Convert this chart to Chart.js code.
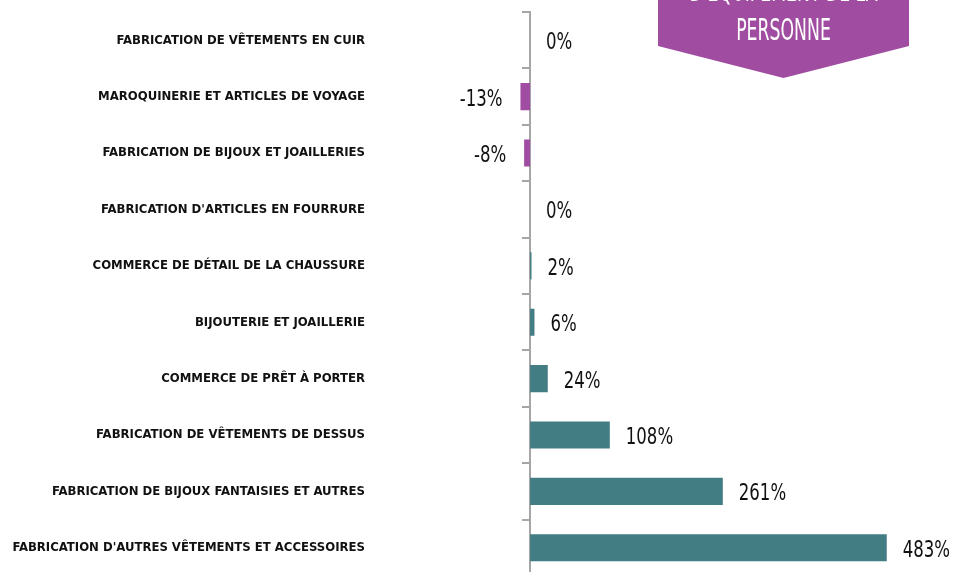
<!DOCTYPE html>
<html>
<head>
<meta charset="utf-8">
<script src="https://cdn.jsdelivr.net/npm/chart.js@4.4.1/dist/chart.umd.min.js"></script>
<style>
  html, body { margin: 0; padding: 0; background: #ffffff; overflow: hidden; }
  #wrap { width: 964px; height: 576px; position: relative; }
</style>
</head>
<body>
<div id="wrap"><canvas id="chart" width="964" height="576"></canvas></div>
<script>
// Sectors of the personal-equipment trade
const categories = [
  "FABRICATION DE VÊTEMENTS EN CUIR",
  "MAROQUINERIE ET ARTICLES DE VOYAGE",
  "FABRICATION DE BIJOUX ET JOAILLERIES",
  "FABRICATION D'ARTICLES EN FOURRURE",
  "COMMERCE DE DÉTAIL DE LA CHAUSSURE",
  "BIJOUTERIE ET JOAILLERIE",
  "COMMERCE DE PRÊT À PORTER",
  "FABRICATION DE VÊTEMENTS DE DESSUS",
  "FABRICATION DE BIJOUX FANTAISIES ET AUTRES",
  "FABRICATION D'AUTRES VÊTEMENTS ET ACCESSOIRES"
];

// Growth rate per sector, in percent
const growth = [0, -13, -8, 0, 2, 6, 24, 108, 261, 483];

// Text shown on each bar
const valueLabels = growth.map(v => v + '%');

// Heading ribbon in the top-right corner
const bannerLines = ["D'ÉQUIPEMENT DE LA", "PERSONNE"];

const TEAL = '#427D83';
const PURPLE = '#A04CA3';
const BANNER = '#A04DA1';
const AXIS_GREY = '#A6A6A6';
const NARROW = "'Liberation Sans Narrow', 'DejaVu Sans Condensed', 'Roboto', sans-serif";

// Percentage printed next to the end of each bar (slightly condensed)
const valueLabelPlugin = {
  id: 'valueLabels',
  afterDatasetsDraw(chart) {
    const ctx = chart.ctx;
    const meta = chart.getDatasetMeta(0);
    const squeeze = 0.8;
    ctx.save();
    ctx.font = '23px ' + NARROW;
    ctx.fillStyle = '#111111';
    ctx.textBaseline = 'middle';
    meta.data.forEach((bar, i) => {
      const v = growth[i];
      const y = bar.y + 3;
      const anchor = v < 0 ? Math.min(bar.x, bar.base) - 18 : Math.max(bar.x, bar.base) + 16;
      ctx.save();
      ctx.translate(anchor, y);
      ctx.scale(squeeze, 1);
      ctx.textAlign = v < 0 ? 'right' : 'left';
      ctx.fillText(valueLabels[i], 0, 0);
      ctx.restore();
    });
    ctx.restore();
  }
};

// Downward-pointing ribbon with the section title
const bannerPlugin = {
  id: 'banner',
  afterDraw(chart) {
    const ctx = chart.ctx;
    const left = 658, right = 909, shoulder = 46, tip = 78;
    const cx = (left + right) / 2;
    ctx.save();
    ctx.fillStyle = BANNER;
    ctx.beginPath();
    ctx.moveTo(left, -60);
    ctx.lineTo(right, -60);
    ctx.lineTo(right, shoulder);
    ctx.lineTo(cx, tip);
    ctx.lineTo(left, shoulder);
    ctx.closePath();
    ctx.fill();

    ctx.fillStyle = '#ffffff';
    ctx.font = '30px ' + NARROW;
    ctx.textAlign = 'center';
    ctx.textBaseline = 'alphabetic';
    const baselines = [1, 39.5];
    bannerLines.forEach((line, i) => {
      ctx.save();
      ctx.translate(cx, baselines[i]);
      ctx.scale(0.64, 1);
      ctx.fillText(line, 0, 0);
      ctx.restore();
    });
    ctx.restore();
  }
};

new Chart(document.getElementById('chart'), {
  type: 'bar',
  data: {
    labels: categories,
    datasets: [{
      data: growth,
      yAxisID: 'y',
      backgroundColor: growth.map(v => (v < 0 ? PURPLE : TEAL)),
      borderWidth: 0,
      barPercentage: 0.48,
      categoryPercentage: 1
    }]
  },
  options: {
    indexAxis: 'y',
    responsive: false,
    animation: false,
    devicePixelRatio: 1,
    layout: { padding: { left: 0, right: 5.6, top: 12, bottom: 0 } },
    plugins: {
      legend: { display: false },
      tooltip: { enabled: false }
    },
    scales: {
      x: {
        display: false,
        min: -214,
        max: 580
      },
      // Category names, right-aligned in a fixed-width column
      y: {
        position: 'left',
        offset: true,
        grid: { display: false, drawTicks: false },
        border: { display: false },
        ticks: {
          padding: 7,
          color: '#111111',
          font: { family: NARROW, size: 13, weight: 'bold' }
        },
        afterFit(scale) {
          scale.width = 372;
          scale.paddingTop = 0;
          scale.paddingBottom = 0;
        }
      },
      // Zero line with small tick marks between categories
      yMarks: {
        type: 'category',
        position: { x: 0 },
        offset: true,
        grid: {
          display: true,
          offset: true,
          drawOnChartArea: false,
          drawTicks: true,
          tickLength: 7,
          color: AXIS_GREY,
          lineWidth: 2
        },
        border: { display: true, color: AXIS_GREY, width: 2 },
        ticks: { display: false },
        afterFit(scale) {
          scale.paddingTop = 0;
          scale.paddingBottom = 0;
        }
      }
    }
  },
  plugins: [valueLabelPlugin, bannerPlugin]
});
</script>
</body>
</html>
